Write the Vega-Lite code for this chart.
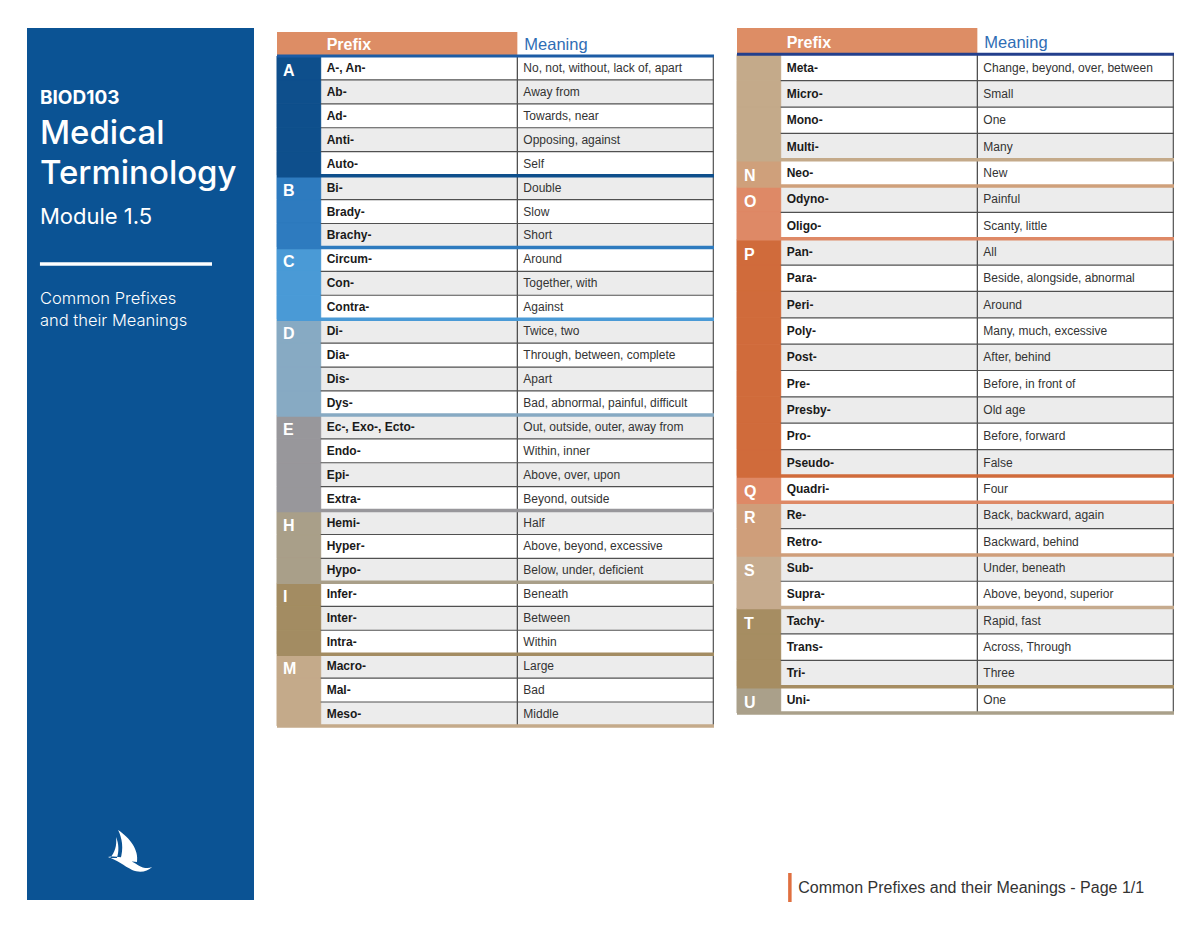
{
  "$schema": "https://vega.github.io/schema/vega-lite/v6.json",
  "padding": {"left": 27, "top": 28, "right": 0, "bottom": 0},
  "background": "#ffffff",
  "config": {"view": {"stroke": null}, "font": "Liberation Sans"},
  "datasets": {
    "side": [
      {"line": 1, "kind": "code", "text": "BIOD103"},
      {"line": 2, "kind": "title", "text": "Medical"},
      {"line": 3, "kind": "title", "text": "Terminology"},
      {"line": 4, "kind": "module", "text": "Module 1.5"},
      {"line": 5, "kind": "rule", "text": ""},
      {"line": 6, "kind": "sub", "text": "Common Prefixes\nand their Meanings"},
      {"line": 20, "kind": "logo", "text": ""}
    ],
    "h": [{"r": 0, "p": "Prefix", "m": "Meaning"}],
    "t1": [
      {"r": 1, "g": "A", "L": "A", "p": "A-, An-", "m": "No, not, without, lack of, apart"},
      {"r": 2, "g": "A", "p": "Ab-", "m": "Away from"},
      {"r": 3, "g": "A", "p": "Ad-", "m": "Towards, near"},
      {"r": 4, "g": "A", "p": "Anti-", "m": "Opposing, against"},
      {"r": 5, "g": "A", "p": "Auto-", "m": "Self"},
      {"r": 6, "g": "B", "L": "B", "p": "Bi-", "m": "Double"},
      {"r": 7, "g": "B", "p": "Brady-", "m": "Slow"},
      {"r": 8, "g": "B", "p": "Brachy-", "m": "Short"},
      {"r": 9, "g": "C", "L": "C", "p": "Circum-", "m": "Around"},
      {"r": 10, "g": "C", "p": "Con-", "m": "Together, with"},
      {"r": 11, "g": "C", "p": "Contra-", "m": "Against"},
      {"r": 12, "g": "D", "L": "D", "p": "Di-", "m": "Twice, two"},
      {"r": 13, "g": "D", "p": "Dia-", "m": "Through, between, complete"},
      {"r": 14, "g": "D", "p": "Dis-", "m": "Apart"},
      {"r": 15, "g": "D", "p": "Dys-", "m": "Bad, abnormal, painful, difficult"},
      {"r": 16, "g": "E", "L": "E", "p": "Ec-, Exo-, Ecto-", "m": "Out, outside, outer, away from"},
      {"r": 17, "g": "E", "p": "Endo-", "m": "Within, inner"},
      {"r": 18, "g": "E", "p": "Epi-", "m": "Above, over, upon"},
      {"r": 19, "g": "E", "p": "Extra-", "m": "Beyond, outside"},
      {"r": 20, "g": "H", "L": "H", "p": "Hemi-", "m": "Half"},
      {"r": 21, "g": "H", "p": "Hyper-", "m": "Above, beyond, excessive"},
      {"r": 22, "g": "H", "p": "Hypo-", "m": "Below, under, deficient"},
      {"r": 23, "g": "I", "L": "I", "p": "Infer-", "m": "Beneath"},
      {"r": 24, "g": "I", "p": "Inter-", "m": "Between"},
      {"r": 25, "g": "I", "p": "Intra-", "m": "Within"},
      {"r": 26, "g": "M", "L": "M", "p": "Macro-", "m": "Large"},
      {"r": 27, "g": "M", "p": "Mal-", "m": "Bad"},
      {"r": 28, "g": "M", "p": "Meso-", "m": "Middle"}
    ],
    "t2": [
      {"r": 1, "g": "M", "p": "Meta-", "m": "Change, beyond, over, between"},
      {"r": 2, "g": "M", "p": "Micro-", "m": "Small"},
      {"r": 3, "g": "M", "p": "Mono-", "m": "One"},
      {"r": 4, "g": "M", "p": "Multi-", "m": "Many"},
      {"r": 5, "g": "N", "L": "N", "p": "Neo-", "m": "New"},
      {"r": 6, "g": "O", "L": "O", "p": "Odyno-", "m": "Painful"},
      {"r": 7, "g": "O", "p": "Oligo-", "m": "Scanty, little"},
      {"r": 8, "g": "P", "L": "P", "p": "Pan-", "m": "All"},
      {"r": 9, "g": "P", "p": "Para-", "m": "Beside, alongside, abnormal"},
      {"r": 10, "g": "P", "p": "Peri-", "m": "Around"},
      {"r": 11, "g": "P", "p": "Poly-", "m": "Many, much, excessive"},
      {"r": 12, "g": "P", "p": "Post-", "m": "After, behind"},
      {"r": 13, "g": "P", "p": "Pre-", "m": "Before, in front of"},
      {"r": 14, "g": "P", "p": "Presby-", "m": "Old age"},
      {"r": 15, "g": "P", "p": "Pro-", "m": "Before, forward"},
      {"r": 16, "g": "P", "p": "Pseudo-", "m": "False"},
      {"r": 17, "g": "Q", "L": "Q", "p": "Quadri-", "m": "Four"},
      {"r": 18, "g": "R", "L": "R", "p": "Re-", "m": "Back, backward, again"},
      {"r": 19, "g": "R", "p": "Retro-", "m": "Backward, behind"},
      {"r": 20, "g": "S", "L": "S", "p": "Sub-", "m": "Under, beneath"},
      {"r": 21, "g": "S", "p": "Supra-", "m": "Above, beyond, superior"},
      {"r": 22, "g": "T", "L": "T", "p": "Tachy-", "m": "Rapid, fast"},
      {"r": 23, "g": "T", "p": "Trans-", "m": "Across, Through"},
      {"r": 24, "g": "T", "p": "Tri-", "m": "Three"},
      {"r": 25, "g": "U", "L": "U", "p": "Uni-", "m": "One"}
    ],
    "foot": [{"label": "Common Prefixes and their Meanings - Page 1/1"}]
  },
  "spacing": 23,
  "bounds": "flush",
  "hconcat": [
    {
      "width": 227,
      "height": 872,
      "view": {"fill": "#0b5394", "stroke": null},
      "data": {"name": "side"},
      "encoding": {
        "y": {"field": "line", "type": "quantitative", "scale": {"domain": [-0.9, 20.9], "reverse": true, "nice": false, "zero": false}, "axis": null}
      },
      "layer": [
        {
          "transform": [{"filter": "datum.kind === 'code'"}],
          "mark": {"type": "text", "align": "left", "baseline": "alphabetic", "font": "Inter", "fontWeight": "bold", "fontSize": 19, "fill": "#ffffff"},
          "encoding": {
            "x": {"datum": 0.057, "type": "quantitative", "scale": {"domain": [0, 1], "nice": false, "zero": false}, "axis": null},
            "text": {"field": "text"}
          }
        },
        {
          "transform": [{"filter": "datum.kind === 'title'"}],
          "mark": {"type": "text", "align": "left", "baseline": "alphabetic", "font": "Inter", "fontWeight": 500, "fontSize": 33, "fill": "#ffffff"},
          "encoding": {
            "x": {"datum": 0.057, "type": "quantitative", "axis": null},
            "text": {"field": "text"}
          }
        },
        {
          "transform": [{"filter": "datum.kind === 'module'"}],
          "mark": {"type": "text", "align": "left", "baseline": "alphabetic", "font": "Inter", "fontWeight": "normal", "fontSize": 22, "fill": "#ffffff"},
          "encoding": {
            "x": {"datum": 0.057, "type": "quantitative", "axis": null},
            "text": {"field": "text"}
          }
        },
        {
          "transform": [{"filter": "datum.kind === 'rule'"}],
          "mark": {"type": "rule", "stroke": "#ffffff", "strokeWidth": 3.5},
          "encoding": {
            "x": {"datum": 0.057, "type": "quantitative", "axis": null},
            "x2": {"datum": 0.815}
          }
        },
        {
          "transform": [{"filter": "datum.kind === 'sub'"}],
          "mark": {"type": "text", "align": "left", "baseline": "alphabetic", "font": "Inter", "fontWeight": 300, "fontSize": 16.5, "lineHeight": 22, "lineBreak": "\n", "fill": "#ffffff"},
          "encoding": {
            "x": {"datum": 0.057, "type": "quantitative", "axis": null},
            "text": {"field": "text"}
          }
        },
        {
          "transform": [{"filter": "datum.kind === 'logo'"}],
          "mark": {"type": "point", "filled": true, "fill": "#ffffff", "opacity": 1, "strokeWidth": 0, "size": 2116,
            "shape": "M -0.52,-1.48 C 0,-1.13 0.39,-0.61 0.3,-0.09 L -0.43,-0.17 C -0.26,-0.69 -0.35,-1.13 -0.52,-1.48 Z M -0.61,-1.17 C -0.57,-0.78 -0.65,-0.52 -0.87,-0.26 L -0.57,-0.26 C -0.48,-0.52 -0.48,-0.87 -0.61,-1.17 Z M -0.96,-0.3 C -0.43,-0.39 0,-0.17 0.35,0.05 C 0.57,0.18 0.78,0.22 0.96,0.13 C 0.74,0.35 0.39,0.39 0.09,0.26 C -0.26,0.09 -0.57,-0.17 -0.96,-0.3 Z"},
          "encoding": {
            "x": {"datum": 0.454, "type": "quantitative", "axis": null}
          }
        }
      ]
    },
    {
      "width": 437,
      "height": 702,
      "data": {"name": "t1"},
      "layer": [
        {
          "data": {"name": "h"},
          "mark": {"type": "rect", "fill": "#dd8d65"},
          "encoding": {
            "x": {"datum": 0, "type": "quantitative", "scale": {"domain": [0, 10], "nice": false, "zero": false}, "axis": null},
            "x2": {"datum": 5.5},
            "y": {"field": "r", "type": "ordinal", "scale": {"domain": [0,1,2,3,4,5,6,7,8,9,10,11,12,13,14,15,16,17,18,19,20,21,22,23,24,25,26,27,28], "paddingInner": 0, "paddingOuter": 0.17}, "axis": null}
          }
        },
        {
          "mark": {"type": "rect"},
          "encoding": {
            "x": {"datum": 1, "type": "quantitative", "axis": null},
            "x2": {"datum": 10},
            "y": {"field": "r", "type": "ordinal", "axis": null},
            "fill": {"condition": {"test": "datum.r % 2 === 0", "value": "#ececec"}, "value": "#ffffff"}
          }
        },
        {
          "mark": {"type": "rect", "strokeWidth": 1},
          "encoding": {
            "x": {"datum": 0, "type": "quantitative", "axis": null},
            "x2": {"datum": 1},
            "y": {"field": "r", "type": "ordinal", "axis": null},
            "fill": {"field": "g", "type": "nominal", "legend": null,
              "scale": {"domain": ["A","B","C","D","E","H","I","M","N","O","P","Q","R","S","T","U"],
                "range": ["#0e4f8c","#2e7bbf","#4a9ad6","#87aac3","#98979b","#a99f89","#a38c62","#c4aa8a","#cfa07b","#de8966","#d06b3b","#de8966","#cf9e7a","#c6ab8e","#a68d62","#aaa08a"]}},
            "stroke": {"field": "g", "type": "nominal", "legend": null,
              "scale": {"domain": ["A","B","C","D","E","H","I","M","N","O","P","Q","R","S","T","U"],
                "range": ["#0e4f8c","#2e7bbf","#4a9ad6","#87aac3","#98979b","#a99f89","#a38c62","#c4aa8a","#cfa07b","#de8966","#d06b3b","#de8966","#cf9e7a","#c6ab8e","#a68d62","#aaa08a"]}}
          }
        },
        {
          "mark": {"type": "rect", "fill": "#505050"},
          "encoding": {
            "x": {"datum": 5.485, "type": "quantitative", "axis": null},
            "x2": {"datum": 5.515},
            "y": {"field": "r", "type": "ordinal", "axis": null}
          }
        },
        {
          "mark": {"type": "rect", "fill": "#606060"},
          "encoding": {
            "x": {"datum": 9.97, "type": "quantitative", "axis": null},
            "x2": {"datum": 10},
            "y": {"field": "r", "type": "ordinal", "axis": null}
          }
        },
        {
          "mark": {"type": "rule", "stroke": "#505050", "strokeWidth": 1.2},
          "encoding": {
            "x": {"datum": 1, "type": "quantitative", "axis": null},
            "x2": {"datum": 10},
            "y": {"field": "r", "type": "ordinal", "bandPosition": 0, "axis": null}
          }
        },
        {
          "transform": [
            {"joinaggregate": [{"op": "max", "field": "r", "as": "last"}], "groupby": ["g"]},
            {"filter": "datum.r === datum.last"}
          ],
          "mark": {"type": "rule", "strokeWidth": 3.5},
          "encoding": {
            "x": {"datum": 0, "type": "quantitative", "axis": null},
            "x2": {"datum": 10},
            "y": {"field": "r", "type": "ordinal", "bandPosition": 1, "axis": null},
            "stroke": {"field": "g", "type": "nominal", "legend": null,
              "scale": {"domain": ["A","B","C","D","E","H","I","M","N","O","P","Q","R","S","T","U"],
                "range": ["#0e4f8c","#2e7bbf","#4a9ad6","#87aac3","#98979b","#a99f89","#a38c62","#c4aa8a","#cfa07b","#de8966","#d06b3b","#de8966","#cf9e7a","#c6ab8e","#a68d62","#aaa08a"]}}
          }
        },
        {
          "data": {"name": "h"},
          "mark": {"type": "rule", "stroke": "#1c5ca5", "strokeWidth": 3},
          "encoding": {
            "x": {"datum": 0, "type": "quantitative", "axis": null},
            "x2": {"datum": 10},
            "y": {"field": "r", "type": "ordinal", "bandPosition": 1, "axis": null}
          }
        },
        {
          "data": {"name": "h"},
          "mark": {"type": "text", "align": "left", "baseline": "middle", "dx": 6, "dy": 1, "fontSize": 16, "fontWeight": "bold", "fill": "#ffffff"},
          "encoding": {
            "x": {"datum": 1, "type": "quantitative", "axis": null},
            "y": {"field": "r", "type": "ordinal", "axis": null},
            "text": {"field": "p"}
          }
        },
        {
          "data": {"name": "h"},
          "mark": {"type": "text", "align": "left", "baseline": "middle", "dx": 7, "dy": 1, "fontSize": 16.5, "fill": "#2f6db5"},
          "encoding": {
            "x": {"datum": 5.5, "type": "quantitative", "axis": null},
            "y": {"field": "r", "type": "ordinal", "axis": null},
            "text": {"field": "m"}
          }
        },
        {
          "transform": [{"filter": "datum.L"}],
          "mark": {"type": "text", "align": "left", "baseline": "middle", "dx": 6, "dy": 3, "fontSize": 16, "fontWeight": "bold", "fill": "#ffffff"},
          "encoding": {
            "x": {"datum": 0, "type": "quantitative", "axis": null},
            "y": {"field": "r", "type": "ordinal", "axis": null},
            "text": {"field": "L"}
          }
        },
        {
          "mark": {"type": "text", "align": "left", "baseline": "middle", "dx": 6, "fontSize": 12, "fontWeight": "bold", "fill": "#1a1a1a"},
          "encoding": {
            "x": {"datum": 1, "type": "quantitative", "axis": null},
            "y": {"field": "r", "type": "ordinal", "axis": null},
            "text": {"field": "p"}
          }
        },
        {
          "mark": {"type": "text", "align": "left", "baseline": "middle", "dx": 6, "fontSize": 12, "fill": "#333333"},
          "encoding": {
            "x": {"datum": 5.5, "type": "quantitative", "axis": null},
            "y": {"field": "r", "type": "ordinal", "axis": null},
            "text": {"field": "m"}
          }
        }
      ]
    },
    {
      "spacing": 160,
      "bounds": "flush",
      "vconcat": [
        {
          "width": 437,
          "height": 685,
          "data": {"name": "t2"},
          "layer": [
            {
              "data": {"name": "h"},
              "mark": {"type": "rect", "fill": "#dd8d65"},
              "encoding": {
                "x": {"datum": 0, "type": "quantitative", "scale": {"domain": [0, 10], "nice": false, "zero": false}, "axis": null},
                "x2": {"datum": 5.5},
                "y": {"field": "r", "type": "ordinal", "scale": {"domain": [0,1,2,3,4,5,6,7,8,9,10,11,12,13,14,15,16,17,18,19,20,21,22,23,24,25], "paddingInner": 0, "paddingOuter": 0}, "axis": null}
              }
            },
            {
              "mark": {"type": "rect"},
              "encoding": {
                "x": {"datum": 1, "type": "quantitative", "axis": null},
                "x2": {"datum": 10},
                "y": {"field": "r", "type": "ordinal", "axis": null},
                "fill": {"condition": {"test": "datum.r % 2 === 0", "value": "#ececec"}, "value": "#ffffff"}
              }
            },
            {
              "mark": {"type": "rect", "strokeWidth": 1},
              "encoding": {
                "x": {"datum": 0, "type": "quantitative", "axis": null},
                "x2": {"datum": 1},
                "y": {"field": "r", "type": "ordinal", "axis": null},
                "fill": {"field": "g", "type": "nominal", "legend": null,
                  "scale": {"domain": ["A","B","C","D","E","H","I","M","N","O","P","Q","R","S","T","U"],
                    "range": ["#0e4f8c","#2e7bbf","#4a9ad6","#87aac3","#98979b","#a99f89","#a38c62","#c4aa8a","#cfa07b","#de8966","#d06b3b","#de8966","#cf9e7a","#c6ab8e","#a68d62","#aaa08a"]}},
                "stroke": {"field": "g", "type": "nominal", "legend": null,
                  "scale": {"domain": ["A","B","C","D","E","H","I","M","N","O","P","Q","R","S","T","U"],
                    "range": ["#0e4f8c","#2e7bbf","#4a9ad6","#87aac3","#98979b","#a99f89","#a38c62","#c4aa8a","#cfa07b","#de8966","#d06b3b","#de8966","#cf9e7a","#c6ab8e","#a68d62","#aaa08a"]}}
              }
            },
            {
              "mark": {"type": "rect", "fill": "#505050"},
              "encoding": {
                "x": {"datum": 5.485, "type": "quantitative", "axis": null},
                "x2": {"datum": 5.515},
                "y": {"field": "r", "type": "ordinal", "axis": null}
              }
            },
            {
              "mark": {"type": "rect", "fill": "#606060"},
              "encoding": {
                "x": {"datum": 9.97, "type": "quantitative", "axis": null},
                "x2": {"datum": 10},
                "y": {"field": "r", "type": "ordinal", "axis": null}
              }
            },
            {
              "mark": {"type": "rule", "stroke": "#505050", "strokeWidth": 1.2},
              "encoding": {
                "x": {"datum": 1, "type": "quantitative", "axis": null},
                "x2": {"datum": 10},
                "y": {"field": "r", "type": "ordinal", "bandPosition": 0, "axis": null}
              }
            },
            {
              "transform": [
                {"joinaggregate": [{"op": "max", "field": "r", "as": "last"}], "groupby": ["g"]},
                {"filter": "datum.r === datum.last"}
              ],
              "mark": {"type": "rule", "strokeWidth": 3.5},
              "encoding": {
                "x": {"datum": 0, "type": "quantitative", "axis": null},
                "x2": {"datum": 10},
                "y": {"field": "r", "type": "ordinal", "bandPosition": 1, "axis": null},
                "stroke": {"field": "g", "type": "nominal", "legend": null,
                  "scale": {"domain": ["A","B","C","D","E","H","I","M","N","O","P","Q","R","S","T","U"],
                    "range": ["#0e4f8c","#2e7bbf","#4a9ad6","#87aac3","#98979b","#a99f89","#a38c62","#c4aa8a","#cfa07b","#de8966","#d06b3b","#de8966","#cf9e7a","#c6ab8e","#a68d62","#aaa08a"]}}
              }
            },
            {
              "data": {"name": "h"},
              "mark": {"type": "rule", "stroke": "#233f8c", "strokeWidth": 3},
              "encoding": {
                "x": {"datum": 0, "type": "quantitative", "axis": null},
                "x2": {"datum": 10},
                "y": {"field": "r", "type": "ordinal", "bandPosition": 1, "axis": null}
              }
            },
            {
              "data": {"name": "h"},
              "mark": {"type": "text", "align": "left", "baseline": "middle", "dx": 6, "dy": 2, "fontSize": 16, "fontWeight": "bold", "fill": "#ffffff"},
              "encoding": {
                "x": {"datum": 1, "type": "quantitative", "axis": null},
                "y": {"field": "r", "type": "ordinal", "axis": null},
                "text": {"field": "p"}
              }
            },
            {
              "data": {"name": "h"},
              "mark": {"type": "text", "align": "left", "baseline": "middle", "dx": 7, "dy": 2, "fontSize": 16.5, "fill": "#2f6db5"},
              "encoding": {
                "x": {"datum": 5.5, "type": "quantitative", "axis": null},
                "y": {"field": "r", "type": "ordinal", "axis": null},
                "text": {"field": "m"}
              }
            },
            {
              "transform": [{"filter": "datum.L"}],
              "mark": {"type": "text", "align": "left", "baseline": "middle", "dx": 7, "dy": 3, "fontSize": 16, "fontWeight": "bold", "fill": "#ffffff"},
              "encoding": {
                "x": {"datum": 0, "type": "quantitative", "axis": null},
                "y": {"field": "r", "type": "ordinal", "axis": null},
                "text": {"field": "L"}
              }
            },
            {
              "mark": {"type": "text", "align": "left", "baseline": "middle", "dx": 6, "fontSize": 12, "fontWeight": "bold", "fill": "#1a1a1a"},
              "encoding": {
                "x": {"datum": 1, "type": "quantitative", "axis": null},
                "y": {"field": "r", "type": "ordinal", "axis": null},
                "text": {"field": "p"}
              }
            },
            {
              "mark": {"type": "text", "align": "left", "baseline": "middle", "dx": 6, "fontSize": 12, "fill": "#333333"},
              "encoding": {
                "x": {"datum": 5.5, "type": "quantitative", "axis": null},
                "y": {"field": "r", "type": "ordinal", "axis": null},
                "text": {"field": "m"}
              }
            }
          ]
        },
        {
          "width": 437,
          "height": 29,
          "data": {"name": "foot"},
          "layer": [
            {
              "mark": {"type": "rect", "fill": "#e07040"},
              "encoding": {
                "x": {"datum": 1.17, "type": "quantitative", "scale": {"domain": [0, 10], "nice": false, "zero": false}, "axis": null},
                "x2": {"datum": 1.25}
              }
            },
            {
              "mark": {"type": "text", "align": "left", "baseline": "middle", "fontSize": 16, "fill": "#333333"},
              "encoding": {
                "x": {"datum": 1.4, "type": "quantitative", "axis": null},
                "text": {"field": "label"}
              }
            }
          ]
        }
      ]
    }
  ]
}
